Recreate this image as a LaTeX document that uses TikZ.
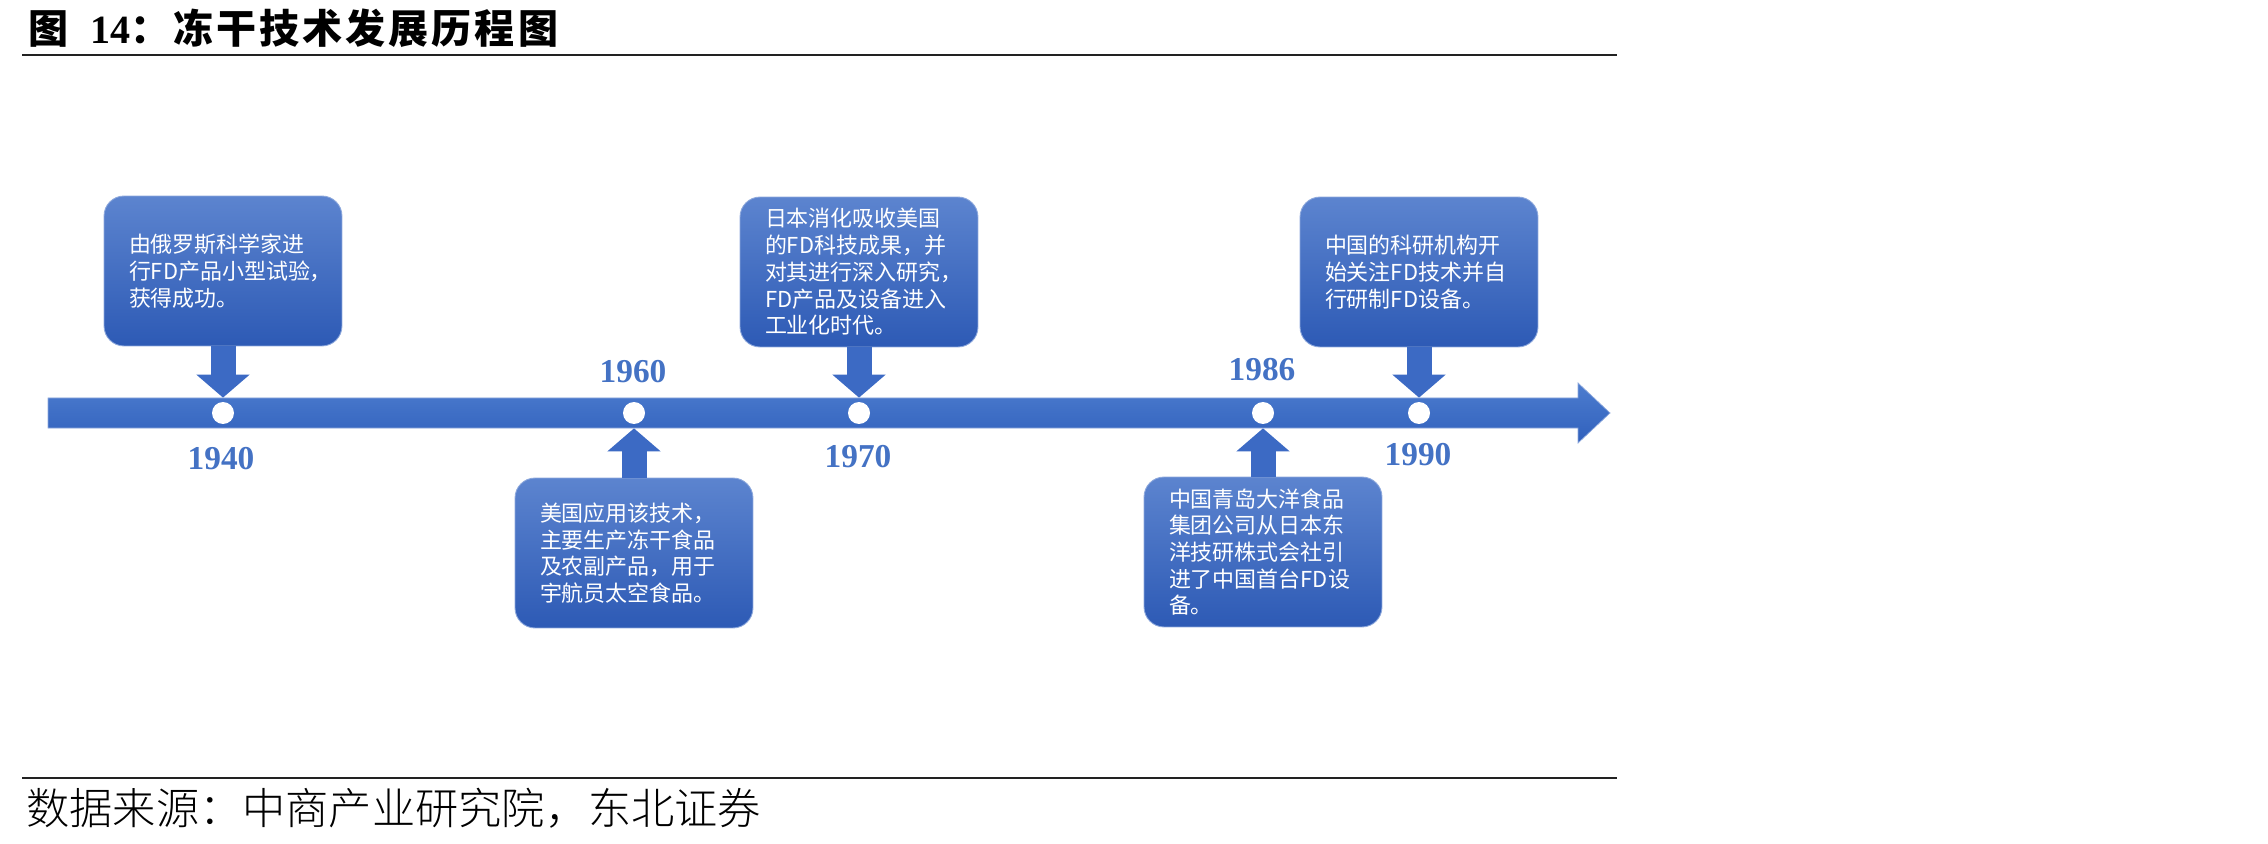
\documentclass[tikz,border=0pt]{standalone}
\usepackage{fontspec}
\newfontfamily\cjk{Noto Sans CJK SC}
\newfontfamily\cjktitle[LetterSpace=7.5]{Noto Sans CJK SC}
\newfontfamily\cjklight{Noto Sans CJK SC Light}
\newfontfamily\serifnum{Liberation Serif}
\usetikzlibrary{
    arrows.meta,
    positioning
}
\definecolor{bartop}{HTML}{4D7DCF}
\definecolor{barbottom}{HTML}{3060BC}
\definecolor{boxtop}{HTML}{5C84CF}
\definecolor{boxbottom}{HTML}{2D5AB5}
\definecolor{boxedge}{HTML}{8DA8DC}
\definecolor{calloutblue}{HTML}{3C6AC4}
\definecolor{yearblue}{HTML}{4472C4}
\definecolor{rulegray}{HTML}{222222}
\hyphenpenalty=10000
\exhyphenpenalty=10000

\begin{document}
\begin{tikzpicture}[
        x=0.02cm, y=-0.02cm,
        event/.style={
            rectangle,
            rounded corners=0.4cm,
            top color=boxtop,
            bottom color=boxbottom,
            draw=boxedge,
            line width=0.5pt,
            minimum width=4.76cm,
            minimum height=3.0cm,
            text width=3.76cm,
            inner xsep=0.5cm,
            align=left,
            text=white,
            font=\cjk\fontsize{12.5pt}{15.2pt}\selectfont
        },
        dot/.style={
            circle,
            fill=white,
            minimum size=0.44cm,
            inner sep=0pt
        },
        year/.style={
            inner sep=0pt,
            text=yearblue,
            font=\serifnum\bfseries\fontsize{19pt}{22pt}\selectfont
        },
        callout/.style={
            line width=0.5cm,
            draw=calloutblue,
            -{Triangle[width=1.04cm,length=0.46cm]},
            shorten >=0.08cm
        },
        rule/.style={
            line width=1.3pt,
            draw=rulegray
        }
    ]

    \useasboundingbox (0,0) rectangle (2268,844);

    % title and rules
    \node[anchor=west, inner sep=0pt] (title) at (28,28.5)
        {\cjktitle\bfseries\fontsize{22.8pt}{26pt}\selectfont 图\hspace{0.44cm}{\serifnum 14}：冻干技术发展历程图};
    \draw[rule] (22,55) -- (1617,55);
    \draw[rule] (22,778) -- (1617,778);
    \node[anchor=west, inner sep=0pt] (source) at (26,808)
        {\cjklight\fontsize{24.6pt}{28pt}\selectfont 数据来源：中商产业研究院，东北证券};

    % time axis
    \shade[top color=bartop, bottom color=barbottom, draw=boxedge, line width=0.4pt]
        (48,398) -- (1578,398) -- (1578,383) -- (1610,413)
        -- (1578,443) -- (1578,428) -- (48,428) -- cycle;

    \node[dot] (d1940) at (223,413) {};
    \node[dot] (d1960) at (634,413) {};
    \node[dot] (d1970) at (859,413) {};
    \node[dot] (d1986) at (1263,413) {};
    \node[dot] (d1990) at (1419,413) {};

    \node[year] (y1940) at (221,459) {1940};
    \node[year] (y1960) at (633,372) {1960};
    \node[year] (y1970) at (858,457) {1970};
    \node[year] (y1986) at (1262,370) {1986};
    \node[year] (y1990) at (1418,455) {1990};

    % events
    \node[event] (e1940) at (223,271)
        {由俄罗斯科学家进\\
         行FD产品小型试验，\\
         获得成功。};

    \node[event] (e1960) at (634,553)
        {美国应用该技术，\\
         主要生产冻干食品\\
         及农副产品，用于\\
         宇航员太空食品。};

    \node[event] (e1970) at (859,272)
        {日本消化吸收美国\\
         的FD科技成果，并\\
         对其进行深入研究，\\
         FD产品及设备进入\\
         工业化时代。};

    \node[event] (e1986) at (1263,552)
        {中国青岛大洋食品\\
         集团公司从日本东\\
         洋技研株式会社引\\
         进了中国首台FD设\\
         备。};

    \node[event] (e1990) at (1419,272)
        {中国的科研机构开\\
         始关注FD技术并自\\
         行研制FD设备。};

    \draw[callout] (e1940) -- (d1940);
    \draw[callout] (e1960) -- (d1960);
    \draw[callout] (e1970) -- (d1970);
    \draw[callout] (e1986) -- (d1986);
    \draw[callout] (e1990) -- (d1990);

\end{tikzpicture}
\end{document}
